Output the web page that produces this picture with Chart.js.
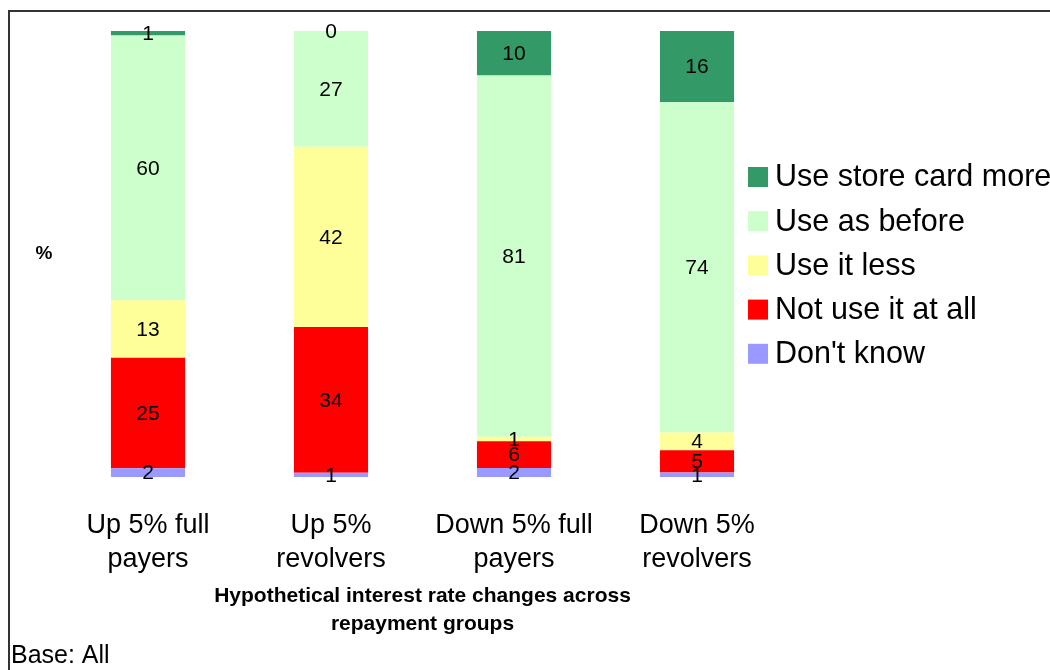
<!DOCTYPE html>
<html>
<head>
<meta charset="utf-8">
<script src="https://cdn.jsdelivr.net/npm/chart.js@4.4.1/dist/chart.umd.min.js"></script>
<style>
  html, body { margin: 0; padding: 0; background: #fff; overflow: hidden; }
  #wrap { width: 1050px; height: 670px; position: relative; }
</style>
</head>
<body>
<div id="wrap"><canvas id="c" width="1050" height="670"></canvas></div>
<script>
// Response groups (x-axis categories)
const categories = [
  ['Up 5% full', 'payers'],
  ['Up 5%', 'revolvers'],
  ['Down 5% full', 'payers'],
  ['Down 5%', 'revolvers']
];

// Reported percentages per answer, one value per category
const dontKnow   = [2, 1, 2, 1];
const notAtAll   = [25, 34, 6, 5];
const useLess    = [13, 42, 1, 4];
const asBefore   = [60, 27, 81, 74];
const useMore    = [1, 0, 10, 16];

const seriesNames  = ["Don't know", 'Not use it at all', 'Use it less', 'Use as before', 'Use store card more'];
const seriesValues = [dontKnow, notAtAll, useLess, asBefore, useMore];
const seriesColors = ['#9999FF', '#FF0000', '#FFFF99', '#CCFFCC', '#339966'];

const axisTitle = ['Hypothetical interest rate changes across', 'repayment groups'];
const baseNote = 'Base: All';

const FONT = "'Liberation Sans', Arial, Helvetica, sans-serif";

// Each column is shown as a 100% stack of its reported answers
const totals = categories.map((_, i) => seriesValues.reduce((s, arr) => s + arr[i], 0));
const datasets = seriesNames.map((name, k) => ({
  label: name,
  data: seriesValues[k].map((v, i) => v / totals[i] * 100),
  rawValues: seriesValues[k],
  backgroundColor: seriesColors[k],
  borderWidth: 0,
  categoryPercentage: 1.0,
  barPercentage: 0.405
}));

// Value labels centred in each segment
const segmentLabels = {
  id: 'segmentLabels',
  afterDatasetsDraw(chart) {
    const ctx = chart.ctx;
    ctx.save();
    ctx.font = '21px ' + FONT;
    ctx.fillStyle = '#000';
    ctx.textAlign = 'center';
    ctx.textBaseline = 'middle';
    chart.data.datasets.forEach((ds, di) => {
      const meta = chart.getDatasetMeta(di);
      meta.data.forEach((bar, i) => {
        const y = (bar.y + bar.base) / 2;
        ctx.fillText(String(ds.rawValues[i]), bar.x, y + 1);
      });
    });
    ctx.restore();
  }
};

// Frame, unit marker, side legend and base note
const decorations = {
  id: 'decorations',
  afterDraw(chart) {
    const ctx = chart.ctx;
    ctx.save();
    ctx.strokeStyle = '#333333';
    ctx.lineWidth = 2;
    ctx.strokeRect(9, 11, 1200, 800);

    ctx.fillStyle = '#000';
    ctx.font = 'bold 19px ' + FONT;
    ctx.textAlign = 'center';
    ctx.textBaseline = 'middle';
    ctx.fillText('%', 44, 254);

    // legend, top item is the top of the stack
    ctx.font = '30.5px ' + FONT;
    ctx.textAlign = 'left';
    const items = chart.data.datasets.slice().reverse();
    items.forEach((ds, j) => {
      const cy = 177 + j * 44.2;
      ctx.fillStyle = ds.backgroundColor;
      ctx.fillRect(748, cy - 10, 20, 20);
      ctx.fillStyle = '#000';
      ctx.fillText(ds.label, 775, cy + 1);
    });

    ctx.font = '25px ' + FONT;
    ctx.fillText(baseNote, 11, 656);
    ctx.restore();
  }
};

new Chart(document.getElementById('c'), {
  type: 'bar',
  data: { labels: categories, datasets },
  options: {
    responsive: false,
    animation: false,
    devicePixelRatio: 1,
    layout: { padding: { left: 56.5, right: 261.5, top: 31, bottom: 0 } },
    plugins: {
      legend: { display: false },
      tooltip: { enabled: false },
      title: { display: false }
    },
    scales: {
      x: {
        stacked: true,
        grid: { display: false },
        border: { display: false },
        ticks: {
          color: '#000',
          font: { family: FONT, size: 27, lineHeight: 34 / 27 },
          padding: 24,
          maxRotation: 0,
          autoSkip: false
        },
        title: {
          display: true,
          text: axisTitle,
          color: '#000',
          font: { family: FONT, size: 21, weight: 'bold', lineHeight: 28 / 21 },
          padding: { top: 0, bottom: 32 }
        },
        afterFit(scale) { scale.height = 193; }
      },
      y: {
        stacked: true,
        display: false,
        min: 0,
        max: 100
      }
    }
  },
  plugins: [segmentLabels, decorations]
});
</script>
</body>
</html>
